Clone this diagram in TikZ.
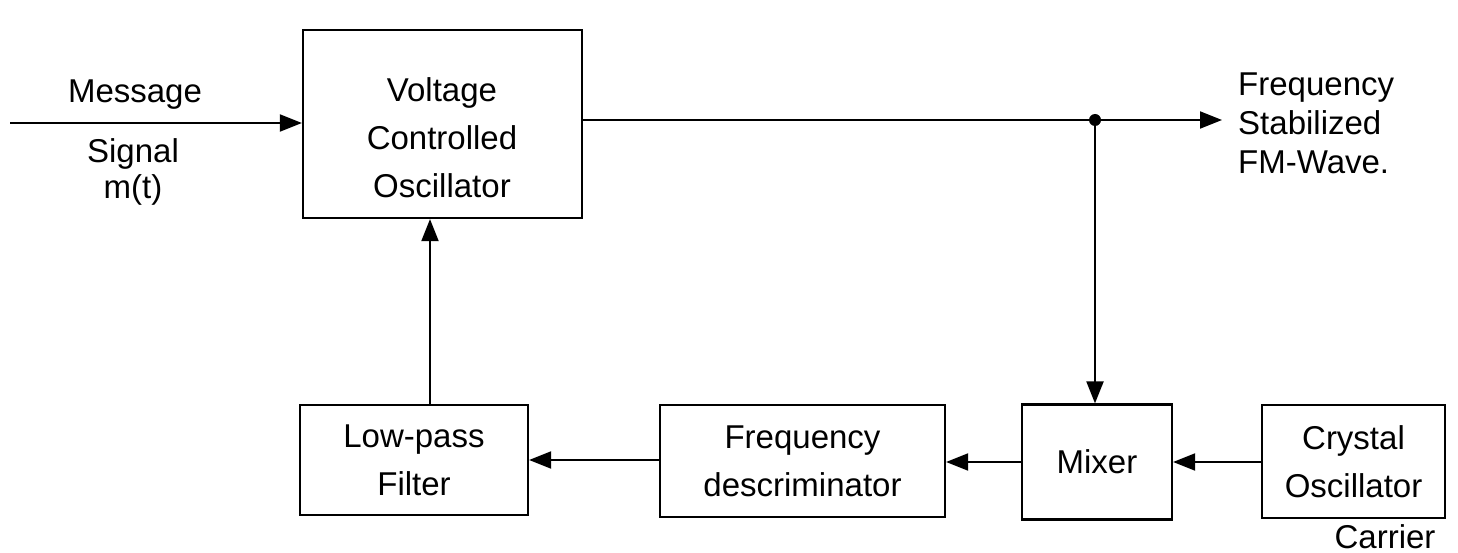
\documentclass[tikz,border=0pt]{standalone}
\usepackage{fontspec}
\setmainfont{Liberation Sans}
\usetikzlibrary{arrows.meta}
\begin{document}
\begin{tikzpicture}[x=1pt,y=-1pt,
  blk/.style={draw, line width=2.2pt, rectangle, align=center, inner sep=0pt,
    font=\fontsize{33}{48}\selectfont},
  lbl/.style={font=\fontsize{33}{48}\selectfont, align=center, inner sep=0pt},
  conn/.style={line width=2pt, -{Triangle[length=22pt,width=17pt]}},
  wire/.style={line width=2pt}]
\useasboundingbox (0,0) rectangle (1458,553);
\fill[white] (0,0) rectangle (1458,553);
\node[blk, minimum width=279pt, minimum height=188pt] (vco) at (442.5,124) {};
\node[lbl] (vcot) at (442,138) {Voltage\\Controlled\\Oscillator};
\node[blk, minimum width=228pt, minimum height=110pt] (lpf) at (414,460) {Low-pass\\Filter};
\node[blk, minimum width=285pt, minimum height=112pt] (disc) at (802.5,461) {Frequency\\descriminator};
\node[blk, minimum width=150pt, minimum height=115pt] (mix) at (1097,462) {Mixer};
\node[blk, minimum width=183pt, minimum height=113pt] (xtal) at (1353.5,461.5) {Crystal\\Oscillator};
\coordinate (in) at (10,123);
\coordinate (dot) at (1095,120);
\coordinate (out) at (1222,120);
\node[lbl] (msg) at (135,95) {Message};
\node[lbl, font=\fontsize{33}{36}\selectfont] (sig) at (133,172) {Signal\\m(t)};
\node[lbl, anchor=west, align=left, font=\fontsize{33}{39}\selectfont] (fm) at (1238,123) {Frequency\\Stabilized\\FM-Wave.};
\node[lbl, anchor=base] (car) at (1385,548) {Carrier};
\draw[conn] (in) -- (vco.west |- in);
\draw[wire] (vco.east |- dot) -- (dot);
\draw[conn] (dot) -- (out);
\fill (dot) circle (6pt);
\draw[conn] (dot) -- (mix.north -| dot);
\draw[conn] (xtal.west |- mix.east) -- (mix.east);
\draw[conn] (disc.east |- mix.east) ++(75,0) -- (disc.east |- mix.east);
\draw[conn] (disc.west |- lpf.east) -- (lpf.east);
\draw[conn] (lpf.north -| 430,0) -- (vco.south -| 430,0);
\end{tikzpicture}
\end{document}
